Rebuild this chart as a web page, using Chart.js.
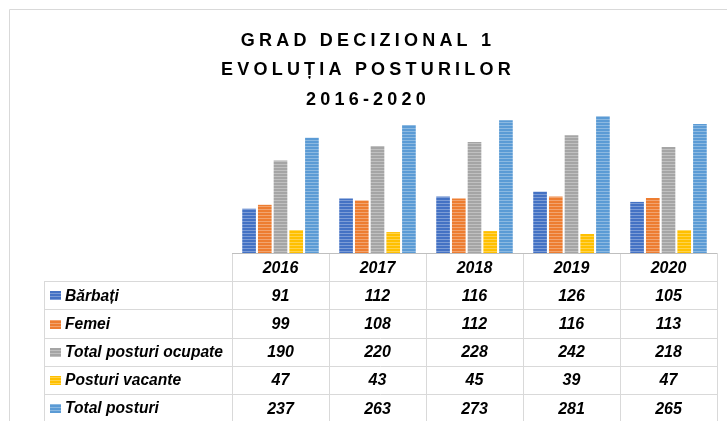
<!DOCTYPE html>
<html><head><meta charset="utf-8">
<script src="https://cdn.jsdelivr.net/npm/chart.js@4"></script>
<style>html,body{margin:0;padding:0;background:#fff}#wrap{width:727px;height:421px;position:relative}</style>
</head><body><div id="wrap"><canvas id="c"></canvas></div>
<script>
const years = ['2016', '2017', '2018', '2019', '2020'];
const barbati = [91, 112, 116, 126, 105];
const femei = [99, 108, 112, 116, 113];
const totalOcupate = [190, 220, 228, 242, 218];
const vacante = [47, 43, 45, 39, 47];
const totalPosturi = [237, 263, 273, 281, 265];
const seriesNames = ['Bărbați', 'Femei', 'Total posturi ocupate', 'Posturi vacante', 'Total posturi'];
const seriesColors = ['#4472C4', '#ED7D31', '#A5A5A5', '#FFC000', '#5B9BD5'];
const titleLines = ['GRAD DECIZIONAL 1', 'EVOLUȚIA POSTURILOR', '2016-2020'];
const seriesData = [barbati, femei, totalOcupate, vacante, totalPosturi];

const canvas = document.getElementById('c');
const mainCtx = canvas.getContext('2d');
function stripe(color) {
  const t = document.createElement('canvas'); t.width = 4; t.height = 3;
  const g = t.getContext('2d');
  g.fillStyle = color; g.fillRect(0, 0, 4, 3);
  g.fillStyle = 'rgba(255,255,255,0.3)'; g.fillRect(0, 2, 4, 1);
  return mainCtx.createPattern(t, 'repeat');
}
const patterns = seriesColors.map(stripe);

const tablePlugin = {
  id: 'tbl',
  beforeDraw(chart) {
    const ctx = chart.ctx;
    ctx.save();
    ctx.strokeStyle = '#d9d9d9'; ctx.lineWidth = 1;
    ctx.beginPath();
    ctx.moveTo(9.5, chart.height); ctx.lineTo(9.5, 9.5); ctx.lineTo(chart.width, 9.5);
    ctx.stroke();
    ctx.restore();
    ctx.letterSpacing = '4.2px';
  },
  beforeDatasetsDraw(chart) { chart.ctx.letterSpacing = '0px'; },
  afterDraw(chart) {
    const ctx = chart.ctx, x = chart.scales.x, area = chart.chartArea;
    const n = years.length;
    const cw = (area.right - area.left) / n;
    const top = Math.round(area.bottom);
    const rowH = 28.2;
    const labelLeft = 44;
    const H = chart.height;
    ctx.save();
    ctx.letterSpacing = '0px';
    ctx.lineWidth = 1;
    ctx.strokeStyle = '#d9d9d9';
    ctx.beginPath();
    for (let r = 1; r <= 5; r++) {
      const y = Math.round(top + r * rowH) + 0.5;
      ctx.moveTo(labelLeft, y); ctx.lineTo(area.right, y);
    }
    for (let i = 0; i <= n; i++) {
      const xx = Math.round(area.left + i * cw) + 0.5;
      ctx.moveTo(xx, top); ctx.lineTo(xx, H);
    }
    ctx.moveTo(labelLeft + 0.5, Math.round(top + rowH)); ctx.lineTo(labelLeft + 0.5, H);
    ctx.stroke();
    ctx.strokeStyle = '#bfbfbf';
    ctx.beginPath();
    ctx.moveTo(area.left, top + 0.5); ctx.lineTo(area.right, top + 0.5);
    ctx.stroke();

    ctx.fillStyle = '#000';
    ctx.textBaseline = 'middle';
    ctx.font = 'italic bold 16px "Liberation Sans", Arial, sans-serif';
    ctx.textAlign = 'center';
    years.forEach((yr, i) => ctx.fillText(yr, x.getPixelForValue(i), top + rowH / 2 + 1));
    seriesData.forEach((arr, r) => {
      const cy = top + rowH * (r + 1.5) + 1;
      ctx.fillStyle = patterns[r];
      ctx.fillRect(labelLeft + 6, Math.round(cy - 5), 11, 9);
      ctx.fillStyle = '#000';
      ctx.textAlign = 'left';
      ctx.font = 'italic bold 15.6px "Liberation Sans", Arial, sans-serif';
      ctx.fillText(seriesNames[r], labelLeft + 21, cy);
      ctx.textAlign = 'center';
      ctx.font = 'italic bold 16px "Liberation Sans", Arial, sans-serif';
      arr.forEach((v, i) => ctx.fillText(String(v), x.getPixelForValue(i), cy));
    });
    ctx.restore();
  }
};

new Chart(canvas, {
  type: 'bar',
  data: {
    labels: years,
    datasets: seriesNames.map((name, i) => ({
      label: name,
      data: seriesData[i],
      backgroundColor: patterns[i],
      borderWidth: 0,
      categoryPercentage: 0.81,
      barPercentage: 0.87
    }))
  },
  options: {
    responsive: true,
    maintainAspectRatio: false,
    animation: false,
    events: [],
    layout: { padding: { left: 19, right: 10, top: 0, bottom: 168 } },
    plugins: {
      legend: { display: false },
      tooltip: { enabled: false },
      title: {
        display: true,
        text: titleLines,
        color: '#000',
        font: { family: '"Liberation Sans", Arial, sans-serif', size: 18, weight: 'bold', lineHeight: '29.5px' },
        padding: { top: 26.25, bottom: -7.75 }
      }
    },
    scales: {
      x: { display: false },
      y: {
        display: true, min: 0, max: 300,
        ticks: { display: false },
        grid: { display: false },
        border: { display: false },
        afterFit(s) { s.width = 213; }
      }
    }
  },
  plugins: [tablePlugin]
});
</script>
</body></html>
